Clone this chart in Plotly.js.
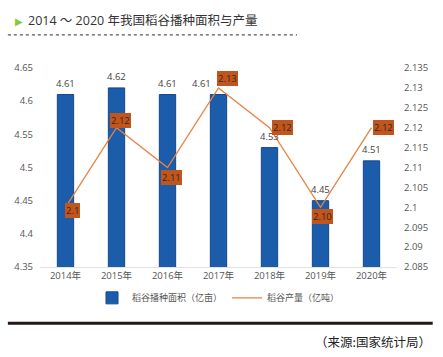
<!DOCTYPE html>
<html><head><meta charset="utf-8">
<script src="https://cdn.plot.ly/plotly-3.0.1.min.js"></script>
<style>html,body{margin:0;padding:0;background:#fff}#chart{width:443px;height:357px}</style>
</head><body><div id="chart"></div>
<script>
// data
const years = ["2014年","2015年","2016年","2017年","2018年","2019年","2020年"];
const area = [4.61, 4.62, 4.61, 4.61, 4.53, 4.45, 4.51];          // 稻谷播种面积（亿亩）
const output = [2.10, 2.12, 2.11, 2.13, 2.12, 2.10, 2.12];        // 稻谷产量（亿吨）
const areaLabels = ["4.61","4.62","4.61","4.61","4.53","4.45","4.51"];
const outputLabels = ["2.1","2.12","2.11","2.13","2.12","2.10","2.12"];
const seriesNames = ["稻谷播种面积（亿亩）","稻谷产量（亿吨）"];
const titleText = "2014 ～ 2020 年我国稻谷播种面积与产量";
const sourceText = "（来源:国家统计局）";

// style-only offsets for labels (px)
const areaLabelShift = [[0,0],[0,0],[0,0],[-17,0],[0,0],[0,0],[0,0]];
const outLabelShift = [[7,-3],[4,7],[4,-10],[9,9],[13,0],[2,-9],[12,0]];

const font = "'Open Sans', 'Noto Sans CJK SC', sans-serif";
const annotations = [];
years.forEach((y,i)=>{
  annotations.push({x:y, y:area[i], xref:'x', yref:'y', text:areaLabels[i], showarrow:false,
    yanchor:'bottom', yshift:3+areaLabelShift[i][1], xshift:areaLabelShift[i][0],
    font:{family:font, size:9.5, color:'#444'}});
  annotations.push({x:y, y:output[i], xref:'x', yref:'y2', text:outputLabels[i], showarrow:false,
    xshift:outLabelShift[i][0], yshift:outLabelShift[i][1],
    bgcolor:'#c0561d', borderpad:1, bordercolor:'#c0561d', borderwidth:0,
    font:{family:font, size:9.5, color:'#3a2516'}});
});
annotations.push({xref:'paper', yref:'paper', x:-0.077, y:1.236, text:'▶', showarrow:false,
  xanchor:'left', yanchor:'middle', font:{family:'DejaVu Sans', size:10, color:'#8cc63f'}});
annotations.push({xref:'paper', yref:'paper', x:-0.04, y:1.238, text:titleText, showarrow:false,
  xanchor:'left', yanchor:'middle', font:{family:font, size:12.5, color:'#333'}});
annotations.push({xref:'paper', yref:'paper', x:1.1, y:-0.376, text:sourceText, showarrow:false,
  xanchor:'right', yanchor:'middle', font:{family:"'Noto Sans CJK SC', sans-serif", size:12.5, color:'#222'}});

const data = [
  {type:'bar', x:years, y:area, name:seriesNames[0], yaxis:'y',
   marker:{color:'#1b5cab', line:{color:'#12488c', width:1}}, width:0.32, hoverinfo:'none'},
  {type:'scatter', mode:'lines', x:years, y:output, name:seriesNames[1], yaxis:'y2',
   line:{color:'#e8823f', width:1.3}, hoverinfo:'none'}
];

const layout = {
  width:443, height:357,
  margin:{l:40, r:46, t:68, b:90},
  paper_bgcolor:'#fff', plot_bgcolor:'#fff',
  showlegend:true,
  legend:{orientation:'h', x:0.5, xanchor:'center', y:-0.155, yanchor:'middle',
    font:{family:font, size:9, color:'#555'}, itemwidth:30, traceorder:'normal'},
  xaxis:{type:'category', showgrid:false, showline:true, linecolor:'#e2e2e2', linewidth:1,
    ticks:'', tickfont:{family:font, size:9.5, color:'#555'}, fixedrange:true},
  yaxis:{range:[4.35,4.65], dtick:0.05, tick0:4.35, showgrid:false, zeroline:false, showline:false,
    ticks:'', tickfont:{family:font, size:9.5, color:'#555'}, ticklabelstandoff:6},
  yaxis2:{range:[2.085,2.135], dtick:0.005, tick0:2.085, overlaying:'y', side:'right', showgrid:false,
    zeroline:false, showline:false, ticks:'', tickfont:{family:font, size:9.5, color:'#555'}, ticklabelstandoff:6},
  annotations:annotations,
  shapes:[
    {type:'line', xref:'paper', yref:'paper', x0:-0.09, x1:0.72, y0:1.166, y1:1.166,
      line:{color:'#555', width:1.2, dash:'dot'}},
    {type:'line', xref:'paper', yref:'paper', x0:-0.09, x1:1.1, y0:-0.283, y1:-0.283,
      line:{color:'#231815', width:3}}
  ]
};
Plotly.newPlot('chart', data, layout, {staticPlot:true, displayModeBar:false});
</script></body></html>
